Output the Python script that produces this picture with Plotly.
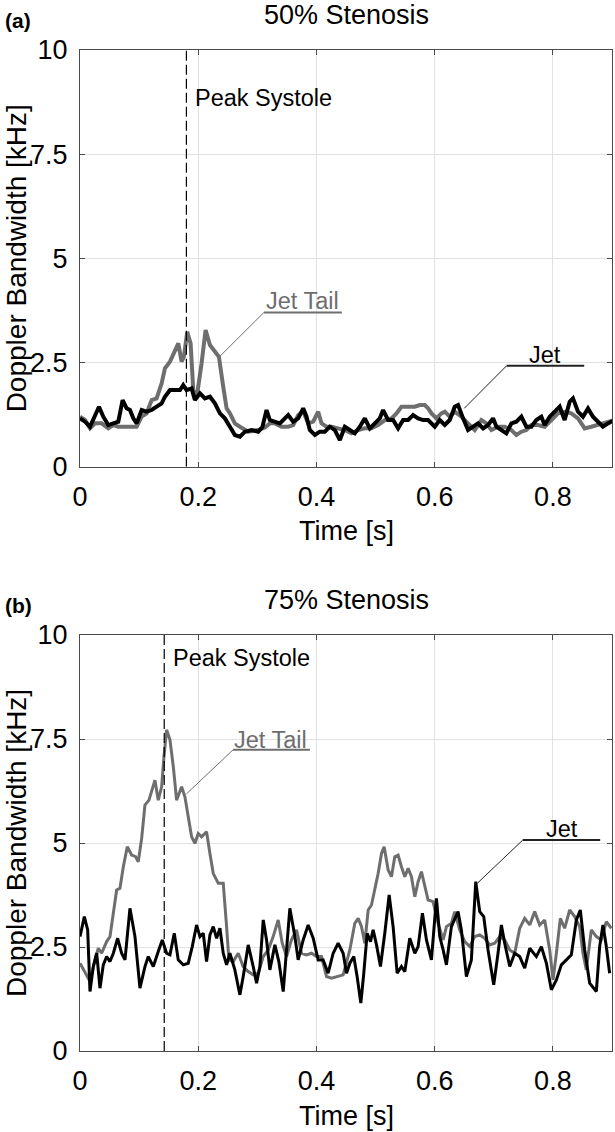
import plotly.graph_objects as go

# ---------------- data ----------------
# Panel (a): 50% stenosis
a_jet_t = [0.000, 0.0085, 0.0169, 0.0254, 0.0321, 0.0394, 0.0479, 0.0564, 0.0648, 0.0721,
           0.0789, 0.0845, 0.0902, 0.0958, 0.1043, 0.1127, 0.1212, 0.1296, 0.1381, 0.1437,
           0.1522, 0.1606, 0.1691, 0.1747, 0.1803, 0.1888, 0.1944, 0.2029, 0.2113, 0.2198,
           0.2282, 0.2367, 0.2451, 0.2536, 0.2620, 0.2705, 0.2790, 0.2902, 0.3015, 0.3085,
           0.3156, 0.3212, 0.3297, 0.3381, 0.3466, 0.3522, 0.3607, 0.3691, 0.3776, 0.3832,
           0.3888, 0.3973, 0.4057, 0.4142, 0.4227, 0.4311, 0.4396, 0.4480, 0.4565, 0.4649,
           0.4734, 0.4818, 0.4903, 0.4987, 0.5072, 0.5128, 0.5213, 0.5297, 0.5382, 0.5466,
           0.5551, 0.5635, 0.5720, 0.5804, 0.5889,
           0.6002, 0.6086, 0.6171, 0.6255, 0.6340, 0.6396, 0.6481, 0.6565, 0.6650, 0.6734,
           0.6819, 0.6903, 0.6988, 0.7044, 0.7129, 0.7213, 0.7298, 0.7382, 0.7467, 0.7551,
           0.7636, 0.7720, 0.7805, 0.7861, 0.7946, 0.8030, 0.8115, 0.8199, 0.8284, 0.8340,
           0.8425, 0.8509, 0.8594, 0.8678, 0.8763, 0.8847, 0.8932, 0.9045]
a_jet_v = [1.16, 1.08, 0.96, 1.20, 1.44, 1.20, 1.00, 1.04, 1.08, 1.60,
           1.40, 1.36, 1.16, 1.04, 1.36, 1.32, 1.36, 1.44, 1.52, 1.68,
           1.84, 1.84, 1.84, 1.96, 1.84, 1.88, 1.60, 1.76, 1.64, 1.68,
           1.52, 1.28, 1.16, 0.96, 0.76, 0.72, 0.84, 0.88, 0.84, 0.95,
           1.36, 1.12, 1.08, 1.04, 1.16, 1.24, 1.08, 1.16, 1.40, 1.20,
           0.88, 0.76, 0.84, 0.84, 0.96, 0.88, 0.64, 0.96, 0.88, 0.80,
           0.96, 1.16, 0.92, 1.04, 1.16, 1.36, 1.12, 1.12, 0.92, 1.12,
           1.12, 1.24, 1.16, 1.12, 1.12,
           0.96, 1.12, 1.00, 1.12, 1.44, 1.48, 1.16, 0.88, 0.96, 1.04,
           0.92, 1.00, 1.16, 0.96, 0.88, 0.80, 1.04, 1.08, 1.20, 0.96,
           0.96, 1.12, 1.20, 1.00, 1.20, 1.32, 1.44, 1.12, 1.56, 1.64,
           1.32, 1.20, 1.40, 1.20, 1.08, 0.96, 1.04, 1.12]

a_tail_t = [0.000, 0.0085, 0.0169, 0.0254, 0.0366, 0.0479, 0.0564, 0.0648, 0.0761, 0.0874,
            0.0958, 0.1043, 0.1127, 0.1212, 0.1296, 0.1381, 0.1437, 0.1522, 0.1606, 0.1663,
            0.1719, 0.1758, 0.1814, 0.1871, 0.1916, 0.1972, 0.2057, 0.2125, 0.2198, 0.2282,
            0.2350, 0.2423, 0.2480, 0.2536, 0.2620, 0.2705, 0.2846, 0.3015, 0.3128,
            0.3212, 0.3297, 0.3409, 0.3522, 0.3607, 0.3691, 0.3776, 0.3860, 0.3945, 0.4029,
            0.4086, 0.4170, 0.4255, 0.4367, 0.4480, 0.4593, 0.4706, 0.4818, 0.4931, 0.5044,
            0.5157, 0.5269, 0.5354, 0.5438, 0.5551, 0.5664, 0.5748, 0.5833, 0.5889, 0.5946,
            0.6030, 0.6114, 0.6171,
            0.6255, 0.6340, 0.6452, 0.6565, 0.6678, 0.6791, 0.6875, 0.6960, 0.7072, 0.7185,
            0.7298, 0.7382, 0.7467, 0.7551, 0.7636, 0.7748, 0.7861, 0.7974, 0.8086, 0.8199,
            0.8312, 0.8425, 0.8537, 0.8650, 0.8763, 0.8847, 0.8932, 0.9045]
a_tail_v = [1.20, 1.12, 0.92, 1.04, 1.04, 0.92, 1.00, 0.96, 0.96, 0.96,
            0.96, 1.20, 1.28, 1.60, 1.64, 2.00, 2.36, 2.52, 2.76, 2.96,
            2.52, 2.64, 3.24, 2.96, 1.84, 1.64, 2.48, 3.28, 2.92, 2.76,
            2.64, 1.92, 1.40, 1.28, 1.04, 0.96, 0.84, 0.88, 0.94,
            1.04, 1.04, 0.96, 0.96, 1.00, 1.24, 1.32, 1.04, 1.08, 1.32,
            1.04, 0.96, 0.96, 0.92, 0.88, 0.80, 0.88, 0.92, 0.92, 1.00,
            1.12, 1.16, 1.28, 1.44, 1.44, 1.44, 1.48, 1.48, 1.40, 1.28,
            1.16, 1.28, 1.32,
            1.20, 1.32, 1.20, 1.04, 0.88, 1.12, 1.04, 0.88, 0.96, 0.96,
            0.88, 0.76, 0.84, 0.88, 1.00, 1.00, 0.96, 1.12, 1.28, 1.32,
            1.28, 1.16, 0.92, 0.96, 1.00, 1.04, 1.08, 1.12]

# Panel (b): 75% stenosis
b_jet_t = [0.000, 0.0073, 0.0130, 0.0169, 0.0225, 0.0282, 0.0338, 0.0394, 0.0451, 0.0507,
           0.0564, 0.0637, 0.0704, 0.0761, 0.0845, 0.0930, 0.1014, 0.1099, 0.1155, 0.1240,
           0.1324, 0.1392, 0.1465, 0.1522, 0.1595, 0.1662, 0.1747, 0.1831, 0.1899, 0.1972,
           0.2029, 0.2085, 0.2141, 0.2198, 0.2254, 0.2311, 0.2367, 0.2423, 0.2480, 0.2536,
           0.2620, 0.2705, 0.2761, 0.2846, 0.2930, 0.2987, 0.3043, 0.3100, 0.3156, 0.3212,
           0.3297, 0.3364, 0.3438, 0.3494, 0.3550, 0.3635, 0.3691, 0.3776, 0.3860, 0.3945,
           0.4029, 0.4114, 0.4198, 0.4283, 0.4367, 0.4452,
           0.4509, 0.4565, 0.4632, 0.4688, 0.4751, 0.4801, 0.4858, 0.4914, 0.4959, 0.5016,
           0.5083, 0.5156, 0.5230, 0.5297, 0.5365, 0.5438, 0.5495, 0.5579, 0.5664, 0.5720,
           0.5793, 0.5861, 0.5945, 0.6030, 0.6086, 0.6143, 0.6199, 0.6283, 0.6396, 0.6452,
           0.6537, 0.6621, 0.6695, 0.6762, 0.6830, 0.6903, 0.6999, 0.7072, 0.7129, 0.7185,
           0.7270, 0.7354, 0.7439, 0.7523, 0.7608, 0.7720, 0.7805, 0.7890, 0.7974, 0.8059,
           0.8143, 0.8228, 0.8312, 0.8397, 0.8464, 0.8538, 0.8622, 0.8735, 0.8791, 0.8847,
           0.8904, 0.8960]
b_jet_v = [2.75, 3.23, 2.91, 1.43, 2.03, 2.35, 1.51, 2.07, 2.27, 2.15,
           2.35, 2.71, 2.35, 2.19, 3.43, 2.75, 1.51, 2.03, 2.27, 2.03,
           2.39, 2.67, 2.35, 2.31, 2.83, 2.19, 2.07, 2.11, 2.51, 3.03,
           2.75, 2.83, 2.15, 2.79, 2.99, 2.71, 2.95, 2.35, 2.07, 2.35,
           1.95, 1.35, 1.79, 2.55, 2.03, 1.63, 2.03, 3.15, 2.67, 1.95,
           2.55, 2.15, 1.43, 2.51, 3.43, 2.75, 2.19, 2.67, 3.03, 2.71,
           2.19, 2.19, 1.87, 2.35, 2.59, 2.35,
           1.87, 2.11, 2.27, 1.79, 1.15, 1.87, 2.83, 2.63, 2.91, 2.55,
           2.03, 2.83, 3.75, 2.99, 1.87, 2.03, 1.91, 2.71, 2.35, 2.51,
           3.31, 2.67, 2.19, 3.67, 2.75, 2.43, 2.07, 2.99, 3.35, 2.91,
           1.79, 2.19, 4.07, 3.35, 3.23, 2.43, 1.59, 2.35, 3.03, 2.59,
           2.03, 2.35, 2.27, 1.99, 2.47, 2.27, 2.51, 2.11, 1.47, 1.71,
           2.07, 2.19, 2.31, 3.15, 3.39, 2.43, 1.63, 1.43, 2.51, 3.03,
           2.51, 1.87]

b_tail_t = [0.000, 0.0085, 0.0169, 0.0254, 0.0310, 0.0366, 0.0451, 0.0507, 0.0564, 0.0620,
            0.0676, 0.0733, 0.0800, 0.0874, 0.0941, 0.0986, 0.1043, 0.1099, 0.1167, 0.1240,
            0.1268, 0.1324, 0.1381, 0.1420, 0.1465, 0.1522, 0.1578, 0.1634, 0.1719, 0.1775,
            0.1831, 0.1888, 0.1944, 0.2000, 0.2057, 0.2141, 0.2198, 0.2254, 0.2339, 0.2423,
            0.2480, 0.2519, 0.2592, 0.2677, 0.2761, 0.2846, 0.2930, 0.3015, 0.3100, 0.3184,
            0.3268, 0.3353, 0.3421, 0.3494, 0.3578, 0.3663, 0.3748, 0.3832, 0.3917, 0.4001,
            0.4086, 0.4170, 0.4255, 0.4367, 0.4452,
            0.4565, 0.4649, 0.4706, 0.4762, 0.4818, 0.4875, 0.4931, 0.4987, 0.5044, 0.5100,
            0.5145, 0.5213, 0.5269, 0.5325, 0.5382, 0.5438, 0.5495, 0.5551, 0.5607, 0.5664,
            0.5720, 0.5776, 0.5833, 0.5889, 0.5973, 0.6058, 0.6143, 0.6199, 0.6283, 0.6340,
            0.6424, 0.6509, 0.6593, 0.6678, 0.6762, 0.6847, 0.6931, 0.7016, 0.7101, 0.7185,
            0.7270, 0.7354, 0.7439, 0.7523, 0.7608, 0.7692, 0.7777, 0.7861, 0.7946, 0.8002,
            0.8059, 0.8126, 0.8199, 0.8284, 0.8369, 0.8453, 0.8509, 0.8566, 0.8650, 0.8735,
            0.8819, 0.8904, 0.8988]
b_tail_v = [2.11, 1.87, 1.67, 2.19, 2.47, 2.35, 2.63, 2.75, 3.31, 3.87,
            3.91, 4.43, 4.91, 4.71, 4.67, 4.55, 5.11, 5.91, 6.03, 6.39,
            6.51, 6.03, 6.35, 7.07, 7.72, 7.48, 6.84, 6.03, 6.35, 6.11,
            5.63, 5.15, 4.99, 5.23, 5.15, 5.27, 4.75, 4.27, 4.03, 4.03,
            2.99, 2.19, 2.15, 2.35, 2.03, 1.91, 1.83, 1.87, 2.27, 2.43,
            2.75, 3.15, 2.59, 2.27, 2.67, 2.91, 2.35, 2.31, 2.35, 2.27,
            2.27, 1.79, 1.75, 1.79, 1.83,
            2.43, 3.07, 3.19, 2.99, 2.59, 3.39, 3.51, 3.87, 4.27, 4.75,
            4.91, 4.35, 4.19, 4.67, 4.71, 4.43, 4.19, 4.39, 4.19, 3.71,
            4.07, 4.31, 3.95, 3.63, 3.59, 3.07, 2.67, 2.99, 3.07, 3.35,
            2.91, 2.63, 2.51, 2.75, 2.79, 2.71, 2.55, 2.59, 2.75, 2.67,
            2.43, 2.35, 2.95, 3.19, 3.03, 3.35, 3.03, 3.15, 2.43, 1.71,
            2.35, 3.19, 2.95, 3.39, 3.23, 2.99, 2.35, 1.95, 2.91, 2.75,
            2.67, 3.11, 2.95]

peak_systole = [0.180, 0.1425]          # time of peak systole, panels (a), (b)
panel_titles = ["50% Stenosis", "75% Stenosis"]
panel_letters = ["(a)", "(b)"]
x_ticks = [0, 0.2, 0.4, 0.6, 0.8]
x_ticktext = ["0", "0.2", "0.4", "0.6", "0.8"]
y_ticks = [0, 2.5, 5, 7.5, 10]
y_ticktext = ["0", "2.5", "5", "7.5", "10"]

# ---------------- styling ----------------
W, H = 615, 1132
FONT = "Liberation Sans, Arial, sans-serif"
BLACK = "#000000"
GRAY = "#6e6e6e"
AXIS = "#4a4a4a"
GRID = "#e2e2e2"

def px_x(p):
    return p / W

def px_y(p):
    return 1 - p / H

fig = go.Figure()

panels = [
    dict(jet=(a_jet_t, a_jet_v), tail=(a_tail_t, a_tail_v), lw=4.0,
         top=50.0, bottom=466.7,
         ps_text=(0.191, 8.84),
         tail_text=(0.376, 3.97), tail_line=[(0.236, 2.64), (0.311, 3.70), (0.443, 3.70)],
         jet_text=(0.787, 2.68), jet_line=[(0.650, 1.40), (0.7215, 2.42), (0.853, 2.42)]),
    dict(jet=(b_jet_t, b_jet_v), tail=(b_tail_t, b_tail_v), lw=3.0,
         top=635.0, bottom=1051.0,
         ps_text=(0.154, 9.45),
         tail_text=(0.3226, 7.48), tail_line=[(0.180, 6.18), (0.259, 7.24), (0.389, 7.24)],
         jet_text=(0.815, 5.33), jet_line=[(0.672, 4.03), (0.749, 5.07), (0.880, 5.07)]),
]

X0, X1 = 80.0, 612.0
layout_axes = {}
annotations = []
shapes = []
for i, p in enumerate(panels):
    xa = "x" if i == 0 else f"x{i+1}"
    ya = "y" if i == 0 else f"y{i+1}"
    xkey = "xaxis" if i == 0 else f"xaxis{i+1}"
    ykey = "yaxis" if i == 0 else f"yaxis{i+1}"
    common = dict(showgrid=True, gridcolor=GRID, gridwidth=1, showline=True,
                  linecolor=AXIS, linewidth=1, mirror="ticks", ticks="inside",
                  ticklen=5, tickcolor=AXIS, zeroline=False, automargin=False,
                  tickfont=dict(family=FONT, size=27, color=BLACK))
    layout_axes[xkey] = dict(common, domain=[px_x(X0), px_x(X1)], range=[0, 0.9],
                             tickmode="array", tickvals=x_ticks, ticktext=x_ticktext,
                             anchor=ya, ticklabelstandoff=6)
    layout_axes[ykey] = dict(common, domain=[px_y(p["bottom"]), px_y(p["top"])],
                             range=[0, 10], tickmode="array", tickvals=y_ticks,
                             ticktext=y_ticktext, anchor=xa, ticklabelstandoff=6)

    fig.add_trace(go.Scatter(x=p["tail"][0], y=p["tail"][1], mode="lines",
                             line=dict(color=GRAY, width=p["lw"]), xaxis=xa, yaxis=ya,
                             name="Jet Tail", cliponaxis=True))
    fig.add_trace(go.Scatter(x=p["jet"][0], y=p["jet"][1], mode="lines",
                             line=dict(color=BLACK, width=p["lw"]), xaxis=xa, yaxis=ya,
                             name="Jet", cliponaxis=True))

    # peak systole dashed line
    shapes.append(dict(type="line", xref=xa, yref=ya, x0=peak_systole[i], x1=peak_systole[i],
                       y0=0, y1=10, line=dict(color=BLACK, width=1.2, dash="10px,4px")))
    annotations.append(dict(xref=xa, yref=ya, x=p["ps_text"][0], y=p["ps_text"][1],
                            text="Peak Systole", showarrow=False, xanchor="left",
                            yanchor="middle", font=dict(family=FONT, size=23.5, color=BLACK)))
    # Jet Tail label
    tl = p["tail_line"]
    for (xa0, ya0), (xa1, ya1), w in [(tl[0], tl[1], 1), (tl[1], tl[2], 2)]:
        shapes.append(dict(type="line", xref=xa, yref=ya, x0=xa0, y0=ya0, x1=xa1, y1=ya1,
                           line=dict(color=GRAY, width=w)))
    annotations.append(dict(xref=xa, yref=ya, x=p["tail_text"][0], y=p["tail_text"][1],
                            text="Jet Tail", showarrow=False, xanchor="center",
                            yanchor="middle", font=dict(family=FONT, size=23.5, color=GRAY)))
    # Jet label
    jl = p["jet_line"]
    for (xa0, ya0), (xa1, ya1), w in [(jl[0], jl[1], 1), (jl[1], jl[2], 2)]:
        shapes.append(dict(type="line", xref=xa, yref=ya, x0=xa0, y0=ya0, x1=xa1, y1=ya1,
                           line=dict(color="#222222", width=w)))
    annotations.append(dict(xref=xa, yref=ya, x=p["jet_text"][0], y=p["jet_text"][1],
                            text="Jet", showarrow=False, xanchor="center",
                            yanchor="middle", font=dict(family=FONT, size=23.5, color=BLACK)))

    off = p["top"] - 50.0
    # panel title and letter
    annotations.append(dict(xref="paper", yref="paper", x=px_x((X0 + X1) / 2),
                            y=px_y(15 + off), text=panel_titles[i], showarrow=False,
                            xanchor="center", yanchor="middle",
                            font=dict(family=FONT, size=27, color=BLACK)))
    annotations.append(dict(xref="paper", yref="paper", x=px_x(3), y=px_y(20 + off),
                            text="<b>" + panel_letters[i] + "</b>", showarrow=False,
                            xanchor="left", yanchor="middle",
                            font=dict(family=FONT, size=21, color=BLACK)))
    # axis titles
    annotations.append(dict(xref="paper", yref="paper", x=px_x((X0 + X1) / 2),
                            y=px_y(531 + off), text="Time [s]", showarrow=False,
                            xanchor="center", yanchor="middle",
                            font=dict(family=FONT, size=27, color=BLACK)))
    annotations.append(dict(xref="paper", yref="paper", x=px_x(16),
                            y=px_y((p["top"] + p["bottom"]) / 2),
                            text="Doppler Bandwidth [kHz]", showarrow=False, textangle=-90,
                            xanchor="center", yanchor="middle",
                            font=dict(family=FONT, size=28, color=BLACK)))

fig.update_layout(width=W, height=H, margin=dict(l=0, r=0, t=0, b=0),
                  paper_bgcolor="white", plot_bgcolor="white", showlegend=False,
                  hovermode=False,
                  annotations=annotations, shapes=shapes, **layout_axes)

fig.write_html("out.html",
               config={"displayModeBar": False, "staticPlot": True},
               post_script="document.body.style.margin='0';"
                           "document.documentElement.style.overflow='hidden';")
